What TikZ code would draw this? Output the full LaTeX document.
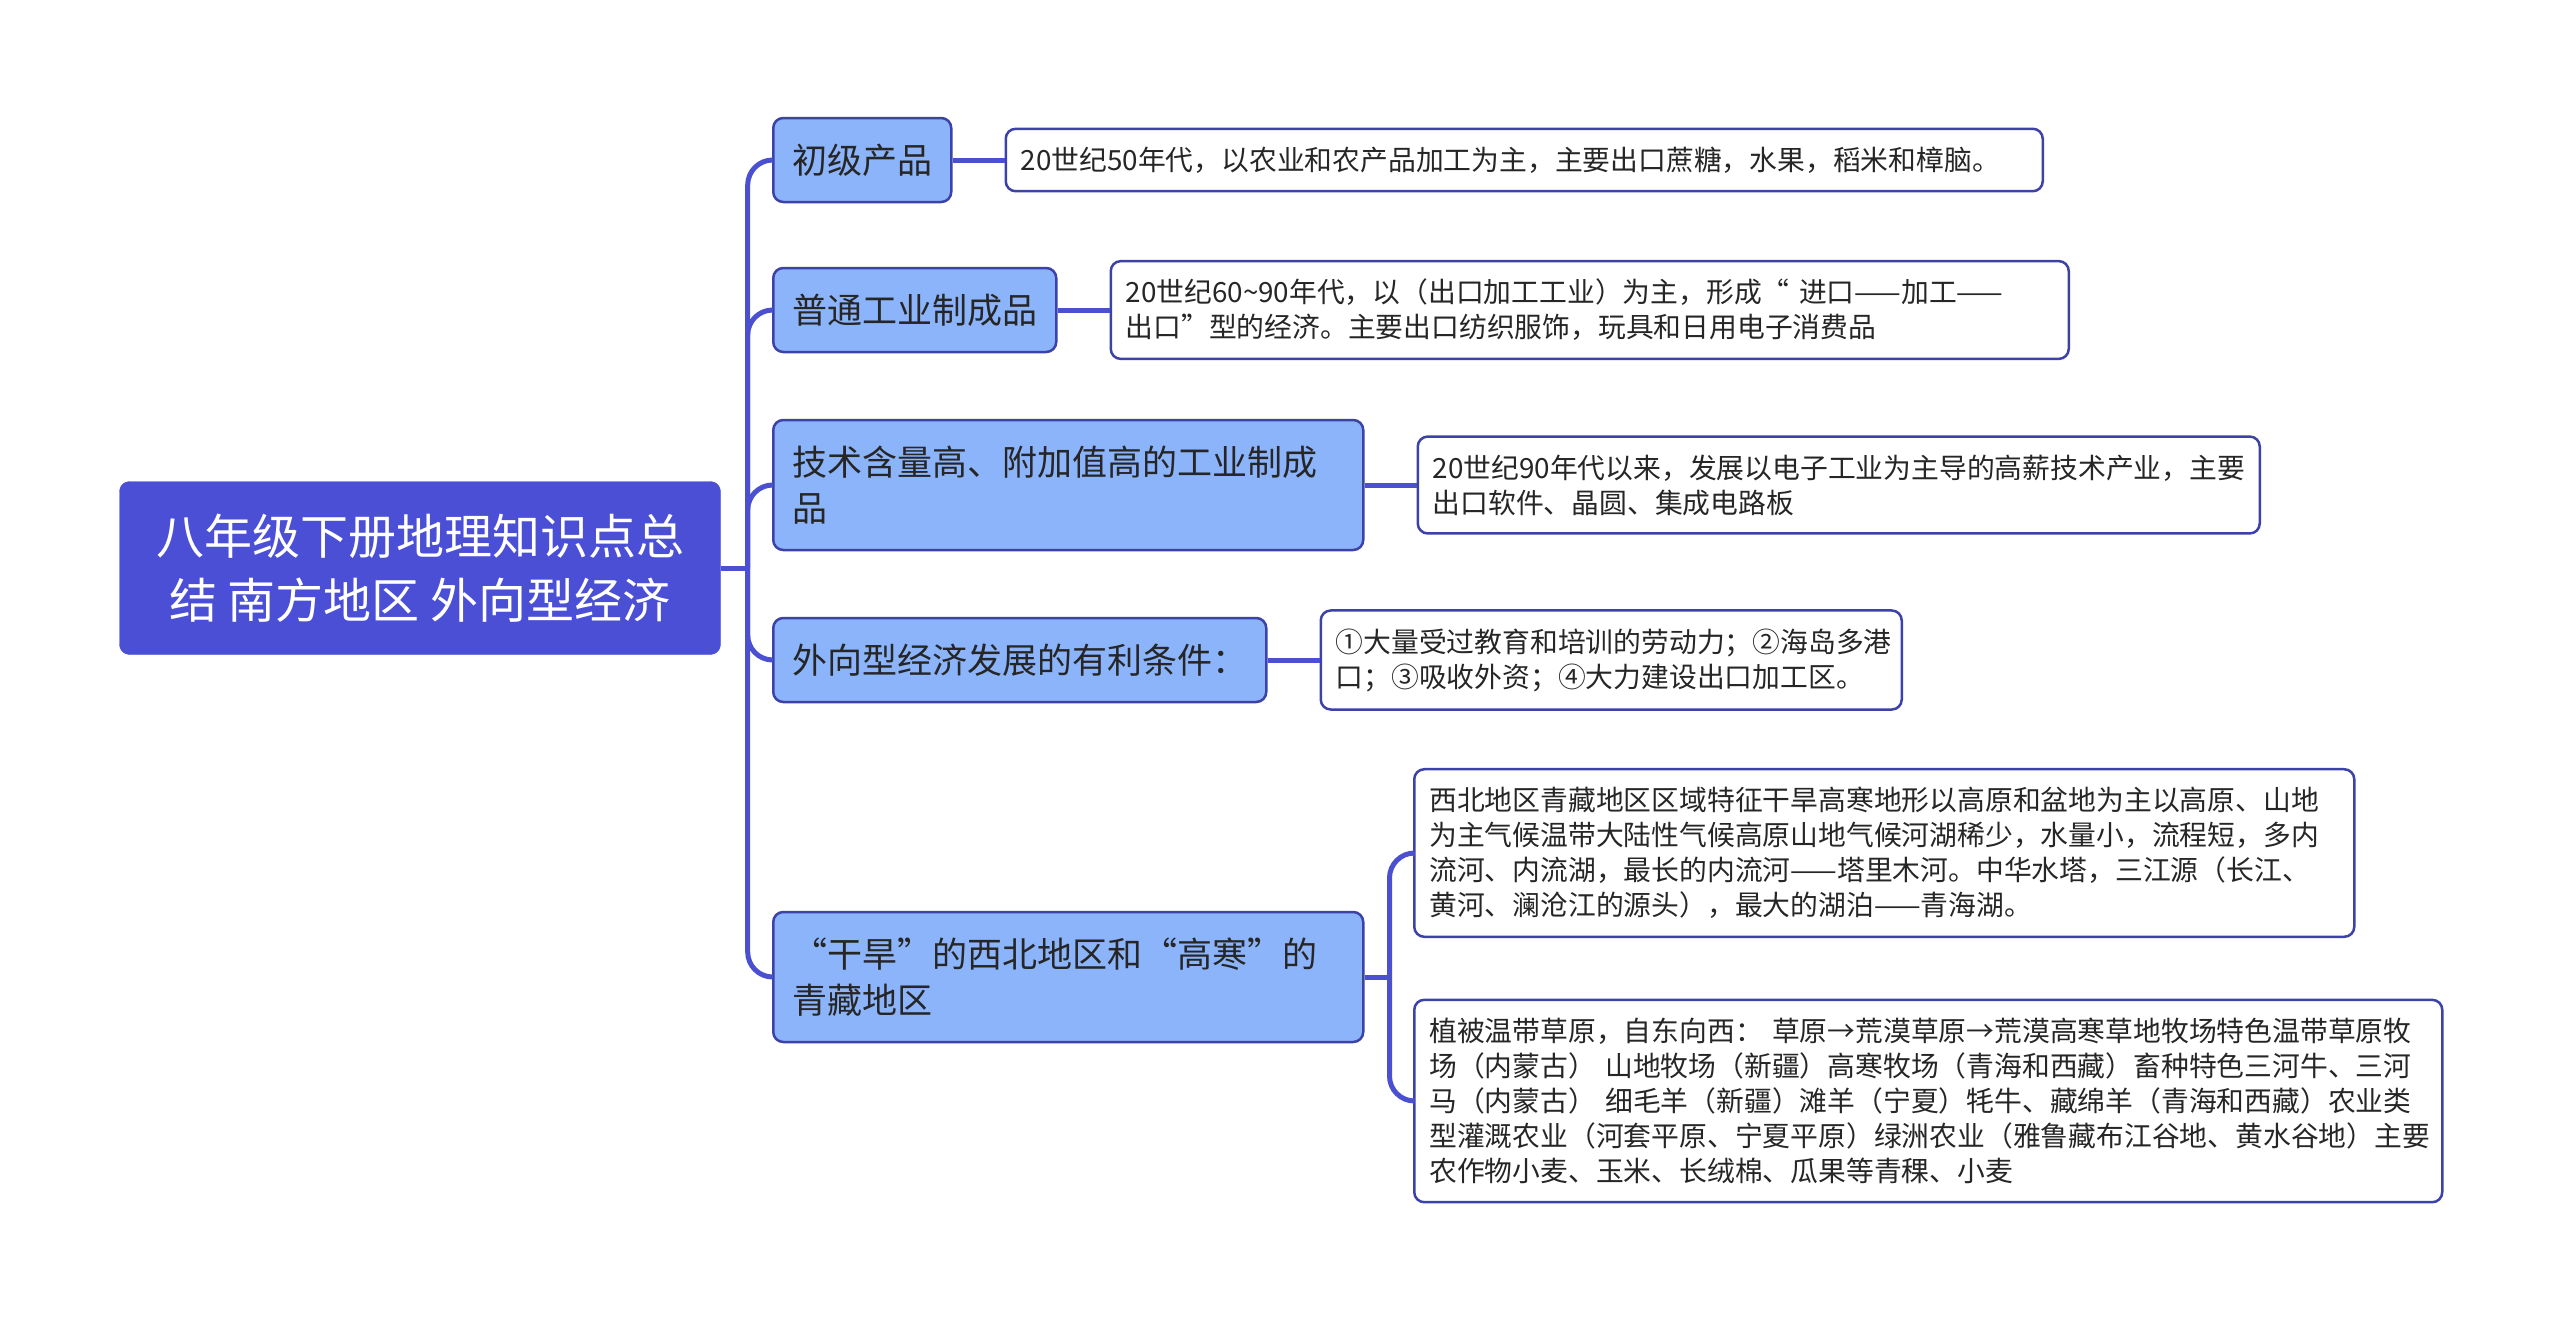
\documentclass[tikz,border=0pt]{standalone}
\usepackage{fontspec}
\usepackage{xcolor}
\usepackage{tikz}
\usetikzlibrary{positioning}
\newfontfamily\cjk{Noto Sans CJK SC}
\definecolor{rootblue}{HTML}{4A4FD6}
\definecolor{branchblue}{HTML}{8CB4FA}
\definecolor{linkblue}{HTML}{4A50D0}
\definecolor{leafline}{HTML}{3C42A8}
\definecolor{inkgray}{HTML}{262626}

\begin{document}
\begin{tikzpicture}[x=1pt,y=-1pt,node distance=52pt,
  link/.style={draw=linkblue,line width=5pt,rounded corners=25pt},
root node/.style={rectangle,rounded corners=10pt,fill=rootblue,draw=rootblue,
text=white,font=\cjk\fontsize{48}{64}\selectfont,align=center,
minimum width=601pt,minimum height=173pt},
branch node/.style={rectangle,rounded corners=10pt,fill=branchblue,draw=leafline,
line width=2.5pt,text=inkgray,font=\cjk\fontsize{35}{46}\selectfont,align=left,
inner xsep=19pt,minimum height=84pt,anchor=west},
leaf node/.style={rectangle,rounded corners=10pt,fill=white,draw=leafline,
line width=2.5pt,text=inkgray,font=\cjk\fontsize{27.8}{35}\selectfont,align=left,
inner xsep=15pt,inner ysep=18pt}]

\useasboundingbox (0,0) rectangle (2560,1323);

\node[root node] (root) at (420,568) {八年级下册地理知识点总\\结 南方地区 外向型经济};

\node[branch node] (b1) at (772,160) {初级产品};
\node[branch node] (b2) at (772,310) {普通工业制成品};
\node[branch node,text width=552pt,minimum height=130pt] (b3) at (772,485)
  {技术含量高、附加值高的工业制成\\品};
\node[branch node] (b4) at (772,660) {外向型经济发展的有利条件：};
\node[branch node,text width=552pt,minimum height=130pt] (b5) at (772,977)
  {“干旱”的西北地区和“高寒”的\\青藏地区};

\node[leaf node,right=of b1,text width=1007pt] (l1)
  {20世纪50年代，以农业和农产品加工为主，主要出口蔗糖，水果，稻米和樟脑。};
\node[leaf node,right=of b2,text width=928pt] (l2)
  {\mbox{20世纪60\textasciitilde 90年代，以（出口加工工业）为主，形成“ 进口——加工——}\\
   出口”型的经济。主要出口纺织服饰，玩具和日用电子消费品};
\node[leaf node,right=of b3,text width=812pt] (l3)
  {20世纪90年代以来，发展以电子工业为主导的高薪技术产业，主要\\
   出口软件、晶圆、集成电路板};
\node[leaf node,right=of b4,text width=551pt] (l4)
  {①大量受过教育和培训的劳动力；②海岛多港\\口；③吸收外资；④大力建设出口加工区。};
\node[leaf node,anchor=west,text width=910pt] (l5a) at (1413,853)
  {西北地区青藏地区区域特征干旱高寒地形以高原和盆地为主以高原、山地\\
   为主气候温带大陆性气候高原山地气候河湖稀少，水量小，流程短，多内\\
   流河、内流湖，最长的内流河——塔里木河。中华水塔，三江源（长江、\\
   黄河、澜沧江的源头），最大的湖泊——青海湖。};
\node[leaf node,anchor=west,text width=998pt] (l5b) at (1413,1101)
  {植被温带草原，自东向西：~草原→荒漠草原→荒漠高寒草地牧场特色温带草原牧\\
   场（内蒙古）~山地牧场（新疆）高寒牧场（青海和西藏）畜种特色三河牛、三河\\
   马（内蒙古）~细毛羊（新疆）滩羊（宁夏）牦牛、藏绵羊（青海和西藏）农业类\\
   型灌溉农业（河套平原、宁夏平原）绿洲农业（雅鲁藏布江谷地、黄水谷地）主要\\
   农作物小麦、玉米、长绒棉、瓜果等青稞、小麦};

% trunk and fork
\coordinate[right=27pt of root] (trunk);
\coordinate[right=25pt of b5] (fork);

\draw[link] (root.east) -- (trunk);
\foreach \b in {b1,b2,b3,b4,b5}
  \draw[link] (trunk) |- (\b.west);
\foreach \b/\l in {b1/l1,b2/l2,b3/l3,b4/l4}
  \draw[link] (\b.east) -- (\l.west);
\draw[link] (b5.east) -- (fork);
\foreach \l in {l5a,l5b}
  \draw[link] (fork) |- (\l.west);
\end{tikzpicture}
\end{document}
